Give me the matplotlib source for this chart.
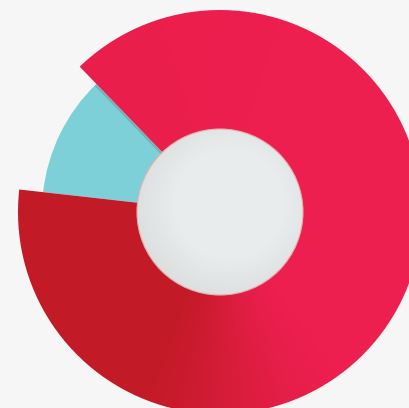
import numpy as np
import matplotlib.pyplot as plt
from matplotlib.colors import LinearSegmentedColormap

# Anteile (Prozent)
labels = ["Rest", "Hauptanteil"]
values = [11, 89]
radii = [178, 202]
colors = ["#7ed0d8", "none"]

fig = plt.figure(figsize=(4.10, 4.08), dpi=100)
fig.patch.set_facecolor("#f6f6f6")
ax = fig.add_axes([0, 0, 1, 1])

cx, cy = 220, 196
wedges, _ = ax.pie(values, colors=colors, startangle=134, counterclock=True,
                   radius=radii[1], center=(cx, cy), frame=True)
ax.set_xlim(0, 410)
ax.set_ylim(0, 408)
ax.set_aspect("equal")
ax.axis("off")
for w, r in zip(wedges, radii):
    w.set_radius(r)

# Verlauf im grossen Segment (dunkelrot -> pink, nach Winkel)
yy, xx = np.mgrid[0:408, 0:410]
ang = (np.degrees(np.arctan2(yy + 0.5 - cy, xx + 0.5 - cx)) - 173) % 360
t = np.clip((ang - 65) / 70, 0, 1)
t = t * t * (3 - 2 * t)
cmap = LinearSegmentedColormap.from_list("rot", ["#c21a26", "#ec1f4e"])
img = cmap(t)
# oben links etwas roetlicher
t2 = np.clip((ang - 260) / 60, 0, 1)
img[..., :3] = img[..., :3] * (1 - 0.25 * t2[..., None]) + np.array([0.90, 0.12, 0.25]) * 0.25 * t2[..., None]
im = ax.imshow(img, extent=(0, 410, 0, 408), origin="lower", zorder=2)
im.set_clip_path(wedges[1])
wedges[1].set_zorder(3)
wedges[1].set_edgecolor("none")

# Schatten an der Kante zum cyan Segment
ax.plot([cx + 83 * np.cos(np.radians(134)), cx + 178 * np.cos(np.radians(134))],
        [cy + 83 * np.sin(np.radians(134)) - 2, cy + 178 * np.sin(np.radians(134)) - 2],
        color="#5a9aa2", lw=1.5, alpha=0.5, zorder=1.5)

# Loch mit leichter Schattierung
hole = plt.Circle((cx, cy), 83, facecolor="#e9ecec", edgecolor="#e8b0b0", lw=0.8, zorder=4)
ax.add_patch(hole)
d = np.hypot(xx + 0.5 - (cx + 10), yy + 0.5 - (cy + 8))
s = np.clip((d - 55) / 45, 0, 1)
shade = np.zeros((408, 410, 4))
shade[..., :3] = 0.70
shade[..., 3] = 0.25 * s
im2 = ax.imshow(shade, extent=(0, 410, 0, 408), origin="lower", zorder=5)
im2.set_clip_path(hole)

fig.savefig("out.png", dpi=100, facecolor=fig.get_facecolor())
